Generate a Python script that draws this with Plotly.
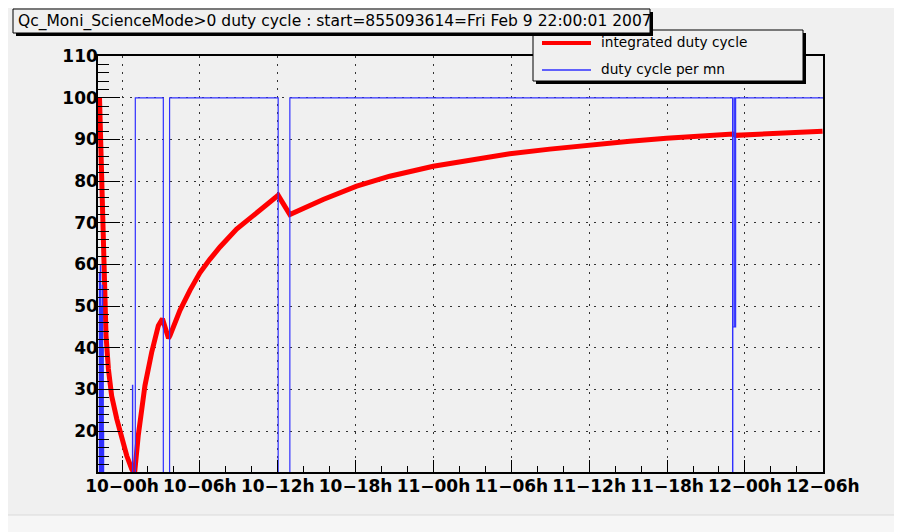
import plotly.graph_objects as go
import pandas as pd

# ---------------- data ----------------
BASE = "2007-02-10 00:00"          # time origin for the minute offsets below
TITLE = "Qc_Moni_ScienceMode>0 duty cycle : start=855093614=Fri Feb 9 22:00:01 2007"
SERIES_NAMES = ["integrated duty cycle", "duty cycle per mn"]

# integrated duty cycle (minutes from 2007-02-10 00:00, percent)
red_min = [-104, -97, -91, -82, -74, -63, -48, -24, -1, 22, 45, 58,
           75, 106, 137, 168, 187, 215, 222, 268, 314, 360, 407, 453,
           530, 607, 684, 722, 776, 823, 930, 1085, 1238, 1439, 1623,
           1793, 1978, 2163, 2348, 2517, 2671, 2825, 2837, 3010, 3239]
red_val = [100, 87, 71, 55, 43, 35, 28.5, 22.9, 18.1, 14.1, 10.9, 9.8,
           18.9, 30.9, 38.9, 45.3, 47, 42.3, 43, 49, 53.8, 58, 61.3, 64.2,
           68.5, 71.8, 74.8, 76.6, 72.0, 73.2, 75.6, 78.8, 81.2, 83.6, 85.3,
           86.6, 87.7, 88.7, 89.6, 90.3, 90.8, 91.3, 91.0, 91.5, 92]

# duty cycle per minute (step values)
blue_min = [-106, -104.5, -103, -101.5, -100, -98.5, -97, -95.5, -94, -92.5,
            -91, -89.5, -88, -86.5, -85, 48.5, 49.5, 61.5, 191, 220, 722,
            776, 2823, 2824, 2830, 2831, 2837, 3241]
blue_val = [58, 0, 45, 12, 60, 0, 35, 50, 0, 25,
            55, 0, 40, 20, 0, 31, 0, 100, 0, 100, 0,
            100, 0, 45, 100, 45, 100, 100]

# axis settings
x_range_min = [-111, 3241]
y_range = [10.2, 110.05]
x_tick0 = "2007-02-10 00:00"

# ---------------- figure ----------------
base = pd.Timestamp(BASE)
red_t = base + pd.to_timedelta(red_min, unit="m")
blue_t = base + pd.to_timedelta(blue_min, unit="m")
xr = [base + pd.Timedelta(minutes=m) for m in x_range_min]

OFF = 8                      # page body margin of the browser
WIN_W, WIN_H = 902, 532
W, H = WIN_W - OFF, WIN_H - OFF
L, R, T, B = 98, 823, 56, 472   # plot area in window pixels


def px(x):
    return (x - L) / (R - L)


def py(y):
    return (B - y) / (B - T)


BG = "#f0f0f0"
RED = "#ff0000"
BLUE = "#3030ff"

fig = go.Figure()
fig.add_trace(go.Scatter(x=red_t, y=red_val, mode="lines", name=SERIES_NAMES[0],
                         line=dict(color=RED, width=5)))
fig.add_trace(go.Scatter(x=blue_t, y=blue_val, mode="lines", name=SERIES_NAMES[1],
                         line=dict(color=BLUE, width=1.2, shape="hv")))

tickfont = dict(family="DejaVu Sans", size=17, color="black", weight="bold")

fig.update_layout(
    width=W, height=H, autosize=False,
    margin=dict(l=L - OFF, r=WIN_W - R, t=T - OFF, b=WIN_H - B, pad=0),
    paper_bgcolor=BG, plot_bgcolor=BG,
    showlegend=False,
    xaxis=dict(type="date", range=xr, tick0=x_tick0, dtick=6 * 3600 * 1000,
               tickformat="%d\u2212%Hh", ticks="inside", ticklen=12, tickwidth=1,
               tickcolor="black", showline=True, linecolor="black", linewidth=1.5,
               mirror=True, showgrid=True, gridcolor="#333333", gridwidth=1,
               griddash="2px,6px", zeroline=False, tickfont=tickfont,
               ticklabelstandoff=-2, automargin=False,
               minor=dict(dtick=2 * 3600 * 1000, ticks="inside", ticklen=6,
                          tickcolor="black", showgrid=False)),
    yaxis=dict(range=y_range, tick0=0, dtick=10, ticks="inside", ticklen=22,
               tickwidth=1, tickcolor="black", showline=True, linecolor="black",
               linewidth=1.5, mirror=True, showgrid=True, gridcolor="#333333",
               gridwidth=1, griddash="2px,6px", zeroline=False, tickfont=tickfont,
               ticklabelstandoff=-5, automargin=False,
               minor=dict(dtick=2, ticks="inside", ticklen=11, tickcolor="black",
                          showgrid=False)),
)

shapes = []
# bottom strip of the window
shapes.append(dict(type="rect", xref="paper", yref="paper", x0=px(-10), x1=px(WIN_W + 10),
                   y0=py(WIN_H + 10), y1=py(515), fillcolor="#f6f6f6",
                   line=dict(color="#dadada", width=1), layer="below"))
# legend box (shadow + box)
shapes.append(dict(type="rect", xref="paper", yref="paper", x0=px(536), x1=px(806),
                   y0=py(84), y1=py(33), fillcolor="black", line=dict(width=0)))
shapes.append(dict(type="rect", xref="paper", yref="paper", x0=px(533), x1=px(803),
                   y0=py(81), y1=py(30), fillcolor=BG,
                   line=dict(color="black", width=1)))
# legend samples
shapes.append(dict(type="line", xref="paper", yref="paper", x0=px(542), x1=px(591),
                   y0=py(43), y1=py(43), line=dict(color=RED, width=4)))
shapes.append(dict(type="line", xref="paper", yref="paper", x0=px(542), x1=px(591),
                   y0=py(70), y1=py(70), line=dict(color=BLUE, width=1.5)))
# title box (shadow + box)
shapes.append(dict(type="rect", xref="paper", yref="paper", x0=px(16), x1=px(653),
                   y0=py(36), y1=py(12), fillcolor="black", line=dict(width=0)))
shapes.append(dict(type="rect", xref="paper", yref="paper", x0=px(13), x1=px(650),
                   y0=py(33), y1=py(9), fillcolor=BG,
                   line=dict(color="black", width=1)))
fig.update_layout(shapes=shapes)

annotations = [
    dict(text=TITLE, xref="paper", yref="paper", x=px(16), y=py(21.5),
         xanchor="left", yanchor="middle", showarrow=False,
         font=dict(family="DejaVu Sans", size=15.5, color="black")),
    dict(text=SERIES_NAMES[0], xref="paper", yref="paper", x=px(599), y=py(42),
         xanchor="left", yanchor="middle", showarrow=False,
         font=dict(family="DejaVu Sans", size=13.7, color="black")),
    dict(text=SERIES_NAMES[1], xref="paper", yref="paper", x=px(599), y=py(69),
         xanchor="left", yanchor="middle", showarrow=False,
         font=dict(family="DejaVu Sans", size=13.7, color="black")),
]
fig.update_layout(annotations=annotations)

fig.write_html("out.html")
